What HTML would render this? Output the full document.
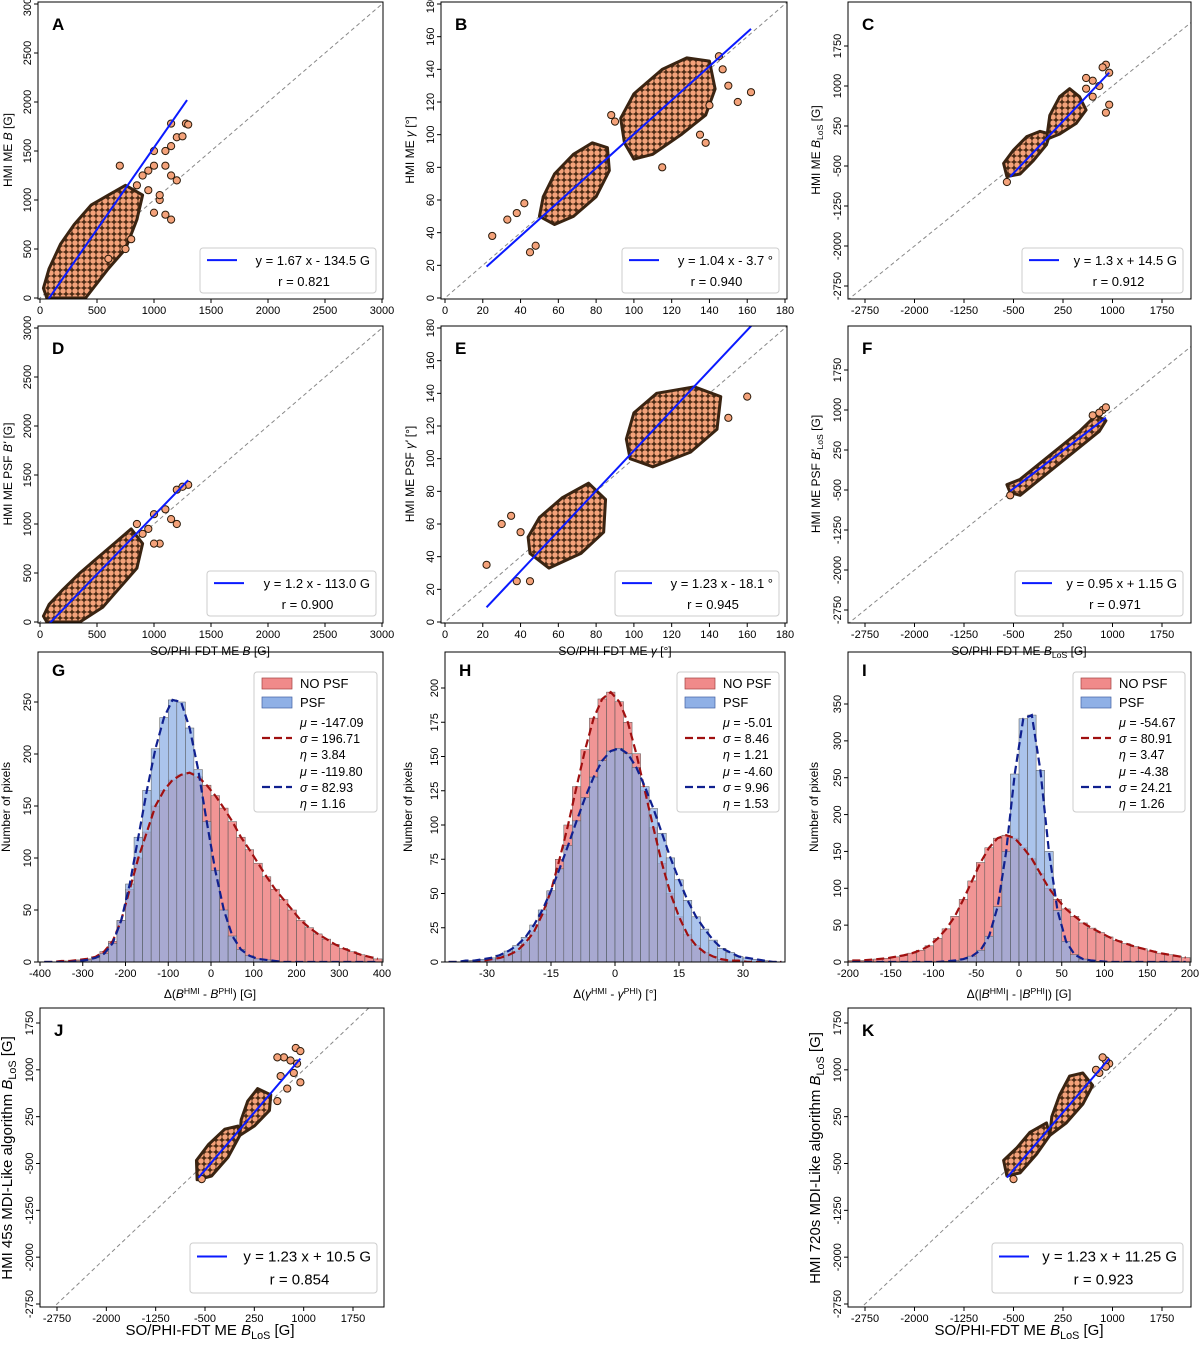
<!DOCTYPE html>
<html><head><meta charset="utf-8">
<style>
html,body{margin:0;padding:0;background:#fff;overflow:hidden;width:1200px;height:1347px;}
svg{display:block;font-family:"Liberation Sans","DejaVu Sans",sans-serif;}
</style></head>
<body>
<svg id="fig" width="1200" height="1347" viewBox="0 0 1200 1347" xmlns="http://www.w3.org/2000/svg">
<defs>
<pattern id="dots" width="6" height="6" patternUnits="userSpaceOnUse">
<rect width="6" height="6" fill="#4a2a14"/>
<circle cx="3" cy="3" r="2.7" fill="#f4a27a"/>
</pattern>
</defs>
</svg>
<script>
// ---------- scatter data (data units) ----------
const cloudA=[[60,0],[400,0],[600,300],[750,500],[850,800],[900,1050],[750,1150],[600,1050],[450,950],[300,750],[180,550],[80,300],[30,100]];
const ptsA=[[1000,1500],[1100,1500],[1150,1550],[1200,1640],[1250,1650],[1280,1780],[1150,1780],[950,1300],[1000,1350],[1100,1350],[1300,1770],[1150,1250],[1200,1200],[950,1100],[1050,1000],[1000,870],[1100,850],[1150,800],[750,500],[600,400],[800,600],[700,1350],[1050,1050],[900,1250],[850,1150]];
const cloudB1=[[50,50],[58,45],[68,50],[80,62],[87,78],[86,92],[78,95],[68,88],[58,76],[52,62]];
const cloudB2=[[95,95],[100,85],[110,88],[125,100],[138,112],[143,128],[140,145],[128,147],[115,140],[100,125],[93,110]];
const ptsB=[[25,38],[33,48],[38,52],[42,58],[45,28],[48,32],[90,108],[88,112],[115,80],[138,95],[150,130],[155,120],[162,126],[140,118],[135,100],[145,148],[147,140]];
const cloudC1=[[-600,-700],[-400,-650],[-200,-400],[0,-100],[50,100],[-100,150],[-300,50],[-500,-200],[-650,-450]];
const cloudC2=[[0,0],[200,100],[450,300],[600,550],[500,800],[350,950],[200,800],[50,450]];
const ptsC=[[700,1100],[800,1000],[600,950],[900,1400],[850,1350],[950,1250],[600,1150],[950,650],[900,500],[700,800],[-600,-800]];
const cloudD=[[60,0],[350,0],[550,150],[700,350],[850,550],[900,800],[800,950],[650,800],[500,650],[350,500],[200,330],[80,180],[30,60]];
const ptsD=[[1100,1150],[1200,1350],[1300,1400],[1150,1050],[1000,1100],[850,1000],[1050,800],[1200,1000],[1250,1380],[950,950],[1000,800],[900,900]];
const cloudE1=[[45,42],[55,33],[72,42],[84,55],[85,75],[76,85],[62,76],[50,64],[44,52]];
const cloudE2=[[98,100],[110,95],[130,104],[144,118],[146,138],[132,144],[112,140],[100,128],[96,112]];
const ptsE=[[22,35],[30,60],[38,25],[45,25],[160,138],[150,125],[35,65],[40,55]];
const cloudF=[[-550,-550],[-400,-600],[-100,-300],[200,0],[500,300],[800,600],[900,800],[750,900],[500,600],[200,300],[-100,0],[-400,-300],[-600,-400]];
const ptsF=[[850,1000],[900,1050],[700,900],[-550,-600],[800,950]];
const cloudJ1=[[-620,-760],[-400,-700],[-150,-400],[30,-50],[0,100],[-200,50],[-450,-200],[-630,-450]];
const cloudJ2=[[30,-50],[250,100],[480,350],[500,600],[300,700],[150,500],[50,200]];
const ptsJ=[[900,1100],[850,950],[950,800],[700,1200],[600,1200],[-550,-750],[800,1150],[650,900],[750,700],[600,500],[880,1350],[950,1300]];
const cloudK1=[[-600,-700],[-400,-650],[-150,-350],[50,-50],[0,150],[-250,0],[-450,-250],[-650,-450]];
const cloudK2=[[50,-50],[300,150],[550,450],[700,750],[550,950],[350,900],[200,600],[80,250]];
const ptsK=[[950,1100],[900,1150],[800,950],[-500,-750],[850,1200],[750,1000],[900,1050]];
// fit parameters
const fitSlopes=[1.67,1.04,1.3,1.2,1.23,0.95,1.23,1.23];
const fitIntercepts=[-134.5,-3.7,14.5,-113.0,-18.1,1.15,10.5,11.25];
// ---------- histogram data ----------
const binsG=[-390,-370,-350,-330,-310,-290,-270,-250,-230,-210,-190,-170,-150,-130,-110,-90,-70,-50,-30,-10,10,30,50,70,90,110,130,150,170,190,210,230,250,270,290,310,330,350,370,390];
const redG=[0,0,1,1,2,3,5,10,20,40,70,100,125,150,165,175,180,182,178,170,160,148,135,120,108,95,82,70,60,50,40,33,27,22,17,13,10,7,5,3];
const blueG=[0,0,0,0,1,2,4,8,18,40,75,120,165,205,235,252,250,225,185,135,88,50,25,12,6,3,2,1,0,0,0,0,0,0,0,0,0,0,0,0];
const binsH=[-39,-37,-35,-33,-31,-29,-27,-25,-23,-21,-19,-17,-15,-13,-11,-9,-7,-5,-3,-1,1,3,5,7,9,11,13,15,17,19,21,23,25,27,29,31,33,35,37,39];
const redH=[0,0,0,1,1,2,3,5,8,14,22,35,52,75,100,128,155,178,192,197,190,175,152,125,98,72,50,33,20,12,7,4,2,1,1,0,0,0,0,0];
const blueH=[0,0,1,1,2,3,5,8,12,18,27,38,52,68,85,103,120,135,147,154,156,152,142,128,112,94,76,60,45,33,24,16,10,7,4,3,2,1,0,0];
const binsI=[-195,-185,-175,-165,-155,-145,-135,-125,-115,-105,-95,-85,-75,-65,-55,-45,-35,-25,-15,-5,5,15,25,35,45,55,65,75,85,95,105,115,125,135,145,155,165,175,185,195];
const redI=[2,2,3,4,5,7,9,12,16,22,32,45,62,85,110,135,155,168,172,168,155,140,120,100,85,72,62,53,46,40,34,29,25,21,18,15,12,10,8,6];
const blueI=[0,0,0,0,0,0,0,0,0,0,0,1,2,4,8,16,35,75,150,255,330,335,260,150,70,28,10,4,2,1,0,0,0,0,0,0,0,0,0,0];
const ticksLin=[0,500,1000,1500,2000,2500,3000];
const ticksAng=[0,20,40,60,80,100,120,140,160,180];
const ticksLos=[-2750,-2000,-1250,-500,250,1000,1750];

const NS='http://www.w3.org/2000/svg';
const svg=document.getElementById('fig');
function mk(tag,attrs,parent){const e=document.createElementNS(NS,tag);for(const k in attrs)e.setAttribute(k,attrs[k]);(parent||svg).appendChild(e);return e;}
function lin(v0,p0,v1,p1){return v=>p0+(v-v0)*(p1-p0)/(v1-v0);}
let clipN=0;

function frame(name,x0,y0,x1,y1,sx,sy,xt,yt,fs){
  const g=mk('g',{});
  
  
  const id='c'+(clipN++);
  const cp=mk('clipPath',{id:id},g);
  mk('rect',{x:x0,y:y0,width:x1-x0,height:y1-y0},cp);
  const inner=mk('g',{'clip-path':'url(#'+id+')'},g);
  const xa=mk('g',{},g);
  
  
  xt.forEach(v=>{const p=sx(v);
    mk('line',{x1:p,y1:y1,x2:p,y2:y1+4,stroke:'#000','stroke-width':1},xa);
    const t=mk('text',{x:p,y:y1+15,'font-size':fs||11,'text-anchor':'middle'},xa);t.textContent=v;});
  const ya=mk('g',{},g);
  
  
  yt.forEach(v=>{const p=sy(v);
    mk('line',{x1:x0-4,y1:p,x2:x0,y2:p,stroke:'#000','stroke-width':1},ya);
    const t=mk('text',{x:x0-7,y:p,'font-size':fs||11,'text-anchor':'middle',transform:'rotate(-90 '+(x0-7)+' '+p+')'},ya);
    t.textContent=v;});
  return {g,inner,close:()=>mk('rect',{x:x0,y:y0,width:x1-x0,height:y1-y0,fill:'none',stroke:'#000','stroke-width':1},g)};
}

function scatter(name,letter,box,sx,sy,xt,yt,clouds,pts,fi,xr,legend,fs){
  const [x0,y0,x1,y1]=box;
  const f=frame(name,x0,y0,x1,y1,sx,sy,xt,yt,fs);
  const lo=-5000,hi=5000;
  const d=mk('line',{x1:sx(lo),y1:sy(lo),x2:sx(hi),y2:sy(hi),stroke:'#888','stroke-width':1,'stroke-dasharray':'4,3'},f.inner);
  
  
  clouds.forEach(c=>{
    const p=mk('polygon',{points:c.map(q=>sx(q[0])+','+sy(q[1])).join(' '),fill:'url(#dots)',stroke:'#3a2412','stroke-width':3,'stroke-linejoin':'round'},f.inner);
    
    
  });
  pts.forEach(q=>{
    const c=mk('circle',{cx:sx(q[0]),cy:sy(q[1]),r:3.6,fill:'#f4a27a',stroke:'#2a1a0a','stroke-width':1},f.inner);
    
    
  });
  const a=fitSlopes[fi],b=fitIntercepts[fi];
  const fl=mk('line',{x1:sx(xr[0]),y1:sy(a*xr[0]+b),x2:sx(xr[1]),y2:sy(a*xr[1]+b),stroke:'#0a1aff','stroke-width':2},f.inner);
  
  
  const lt=mk('text',{x:x0+14,y:y0+28,'font-size':17,'font-weight':'bold'},f.g);lt.textContent=letter;
  
  
  const [lx,ly,lw,lh,t1,t2,lfs]=legend;
  const lg=mk('g',{},f.g);
  
  
  mk('rect',{x:lx,y:ly,width:lw,height:lh,rx:3,fill:'#fff',stroke:'#ccc','stroke-width':1},lg);
  mk('line',{x1:lx+7,y1:ly+lh*0.27,x2:lx+37,y2:ly+lh*0.27,stroke:'#0a1aff','stroke-width':2},lg);
  const a1=mk('text',{x:lx+lw-6,y:ly+lh*0.27+5,'font-size':lfs,'text-anchor':'end'},lg);a1.textContent=t1;
  const a2=mk('text',{x:lx+lw-6-(lw-44)/2,y:ly+lh*0.75+4,'font-size':lfs,'text-anchor':'middle'},lg);a2.textContent=t2;
  f.close();
}

function hist(name,letter,box,sx,sy,xt,yt,bins,bw,red,blue,legendX,stats){
  const [x0,y0,x1,y1]=box;
  const f=frame(name,x0,y0,x1,y1,sx,sy,xt,yt,11);
  const series=[[red,'#f08a8a','red-bar'],[blue,'#8fb0e6','blue-bar']];
  series.forEach(([arr,col,nm],si)=>{
    arr.forEach((v,i)=>{
      const xa=sx(bins[i]-bw/2),xb=sx(bins[i]+bw/2);
      const r=mk('rect',{x:xa,y:sy(v),width:xb-xa,height:sy(0)-sy(v),fill:col,'fill-opacity':si?0.75:0.9,stroke:'#555','stroke-width':0.5},f.inner);
      
      
    });
  });
  [[red,'#a01010'],[blue,'#10208f']].forEach(([arr,col])=>{
    const p=mk('polyline',{points:arr.map((v,i)=>sx(bins[i])+','+sy(v)).join(' '),fill:'none',stroke:col,'stroke-width':2.2,'stroke-dasharray':'8,4'},f.inner);
    
    
  });
  const lt=mk('text',{x:x0+14,y:y0+24,'font-size':17,'font-weight':'bold'},f.g);lt.textContent=letter;
  
  
  const lg=mk('g',{},f.g);
  
  
  const lx=legendX,ly=y0+20;
  mk('rect',{x:lx,y:ly,width:x1-6-lx,height:140,rx:3,fill:'#fff','fill-opacity':0.85,stroke:'#ccc'},lg);
  mk('rect',{x:lx+8,y:ly+6,width:30,height:11,fill:'#f08a8a',stroke:'#a04040','stroke-width':0.7},lg);
  mk('rect',{x:lx+8,y:ly+25,width:30,height:11,fill:'#8fb0e6',stroke:'#4060a0','stroke-width':0.7},lg);
  let t=mk('text',{x:lx+46,y:ly+16,'font-size':13},lg);t.textContent='NO PSF';
  t=mk('text',{x:lx+46,y:ly+35,'font-size':13},lg);t.textContent='PSF';
  [['#a01010',0],['#10208f',1]].forEach(([col,k])=>{
    const by=ly+55+k*49;
    mk('line',{x1:lx+8,y1:by+11,x2:lx+38,y2:by+11,stroke:col,'stroke-width':2.2,'stroke-dasharray':'8,4'},lg);
    ['μ','σ','η'].forEach((s,j)=>{
      const tt=mk('text',{x:lx+46,y:by+j*16,'font-size':12.5},lg);
      const ts=mk('tspan',{'font-style':'italic'},tt);ts.textContent=s;
      const tv=mk('tspan',{},tt);tv.textContent=' = '+stats[k][j];
    });
  });
  f.close();
}

const sxA=lin(0,40,3000,382), syA=lin(0,298,3000,4), syD=lin(0,622,3000,328);
const sxB=lin(0,445,180,785), syB=lin(0,298,180,4), syE=lin(0,622,180,328);
const sxC=lin(-2750,865,1750,1162), syC=lin(-2750,286,1750,46), syF=lin(-2750,610,1750,370);
const sxJ=lin(-2750,57,1750,353), syJ=lin(-2750,1304,1750,1023), sxK=sxC;

scatter('panel-a','A',[38,2,383,299],sxA,syA,ticksLin,ticksLin,[cloudA],ptsA,0,[40,1290],[200,248,176,45,'y = 1.67 x - 134.5 G','r = 0.821',13]);
scatter('panel-b','B',[441,2,787,299],sxB,syB,ticksAng,ticksAng,[cloudB1,cloudB2],ptsB,1,[22,162],[622,248,157,45,'y = 1.04 x - 3.7 °','r = 0.940',13]);
scatter('panel-c','C',[848,2,1191,299],sxC,syC,ticksLos,ticksLos,[cloudC1,cloudC2],ptsC,2,[-550,950],[1022,248,161,45,'y = 1.3 x + 14.5 G','r = 0.912',13]);
scatter('panel-d','D',[38,326,383,623],sxA,syD,ticksLin,ticksLin,[cloudD],ptsD,3,[40,1300],[207,571,169,45,'y = 1.2 x - 113.0 G','r = 0.900',13]);
scatter('panel-e','E',[441,326,787,623],sxB,syE,ticksAng,ticksAng,[cloudE1,cloudE2],ptsE,4,[22,175],[615,571,164,45,'y = 1.23 x - 18.1 °','r = 0.945',13]);
scatter('panel-f','F',[848,326,1191,623],sxC,syF,ticksLos,ticksLos,[cloudF],ptsF,5,[-550,900],[1015,571,168,45,'y = 0.95 x + 1.15 G','r = 0.971',13]);
scatter('panel-j','J',[40,1008,384,1307],sxJ,syJ,ticksLos,ticksLos,[cloudJ1,cloudJ2],ptsJ,6,[-600,950],[190,1243,187,50,'y = 1.23 x + 10.5 G','r = 0.854',15]);
scatter('panel-k','K',[848,1008,1191,1307],sxK,syJ,ticksLos,ticksLos,[cloudK1,cloudK2],ptsK,7,[-600,950],[992,1243,191,50,'y = 1.23 x + 11.25 G','r = 0.923',15]);

hist('panel-g','G',[38,652,383,962],lin(-400,40,400,382),lin(0,962,250,702),[-400,-300,-200,-100,0,100,200,300,400],[0,50,100,150,200,250],binsG,20,redG,blueG,254,[['-147.09','196.71','3.84'],['-119.80','82.93','1.16']]);
hist('panel-h','H',[445,652,785,962],lin(-30,487,30,743),lin(0,962,200,688),[-30,-15,0,15,30],[0,25,50,75,100,125,150,175,200],binsH,2,redH,blueH,677,[['-5.01','8.46','1.21'],['-4.60','9.96','1.53']]);
hist('panel-i','I',[848,652,1191,962],lin(-200,848,200,1190),lin(0,962,350,704),[-200,-150,-100,-50,0,50,100,150,200],[0,50,100,150,200,250,300,350],binsI,10,redI,blueI,1073,[['-54.67','80.91','3.47'],['-4.38','24.21','1.26']]);

function label(name,x,y,rot,fs,parts){
  const t=mk('text',{x:x,y:y,'font-size':fs,'text-anchor':'middle'});
  if(rot)t.setAttribute('transform','rotate(-90 '+x+' '+y+')');
  
  
  parts.forEach(p=>{const s=mk('tspan',{},t);s.textContent=p[0];
    if(p[1]==='i')s.setAttribute('font-style','italic');
    if(p[1]==='sub'){s.setAttribute('font-size',fs*0.72);s.setAttribute('dy',fs*0.25);}
    if(p[1]==='sup'){s.setAttribute('font-size',fs*0.72);s.setAttribute('dy',-fs*0.35);}
    if(p[1]==='rs'){s.setAttribute('dy',-fs*0.25);}
    if(p[1]==='rp'){s.setAttribute('dy',fs*0.35);}
  });
}
label('y-axis-title-a',12,150,true,12,[['HMI ME '],['B','i'],[' [G]']]);
label('y-axis-title-b',414,150,true,12,[['HMI ME '],['γ','i'],[' [°]']]);
label('y-axis-title-c',820,150,true,12,[['HMI ME '],['B','i'],['LoS','sub'],[' [G]','rs']]);
label('y-axis-title-d',12,474,true,12,[['HMI ME PSF '],['B\'','i'],[' [G]']]);
label('y-axis-title-e',414,474,true,12,[['HMI ME PSF '],['γ\'','i'],[' [°]']]);
label('y-axis-title-f',820,474,true,12,[['HMI ME PSF '],['B\'','i'],['LoS','sub'],[' [G]','rs']]);
label('x-axis-title-d',210,655,false,12,[['SO/PHI-FDT ME '],['B','i'],[' [G]']]);
label('x-axis-title-e',615,655,false,12,[['SO/PHI-FDT ME '],['γ','i'],[' [°]']]);
label('x-axis-title-f',1019,655,false,12,[['SO/PHI-FDT ME '],['B','i'],['LoS','sub'],[' [G]','rs']]);
label('y-axis-title-g',10,807,true,12,[['Number of pixels']]);
label('y-axis-title-h',412,807,true,12,[['Number of pixels']]);
label('y-axis-title-i',818,807,true,12,[['Number of pixels']]);
label('x-axis-title-g',210,998,false,12,[['Δ('],['B','i'],['HMI','sup'],[' - ','rp'],['B','i'],['PHI','sup'],[') [G]','rp']]);
label('x-axis-title-h',615,998,false,12,[['Δ('],['γ','i'],['HMI','sup'],[' - ','rp'],['γ','i'],['PHI','sup'],[') [°]','rp']]);
label('x-axis-title-i',1019,998,false,12,[['Δ(|'],['B','i'],['HMI','sup'],['| - |','rp'],['B','i'],['PHI','sup'],['|) [G]','rp']]);
label('y-axis-title-j',12,1158,true,15,[['HMI 45s MDI-Like algorithm '],['B','i'],['LoS','sub'],[' [G]','rs']]);
label('y-axis-title-k',820,1158,true,15,[['HMI 720s MDI-Like algorithm '],['B','i'],['LoS','sub'],[' [G]','rs']]);
label('x-axis-title-j',210,1335,false,15,[['SO/PHI-FDT ME '],['B','i'],['LoS','sub'],[' [G]','rs']]);
label('x-axis-title-k',1019,1335,false,15,[['SO/PHI-FDT ME '],['B','i'],['LoS','sub'],[' [G]','rs']]);
</script>
</body></html>
